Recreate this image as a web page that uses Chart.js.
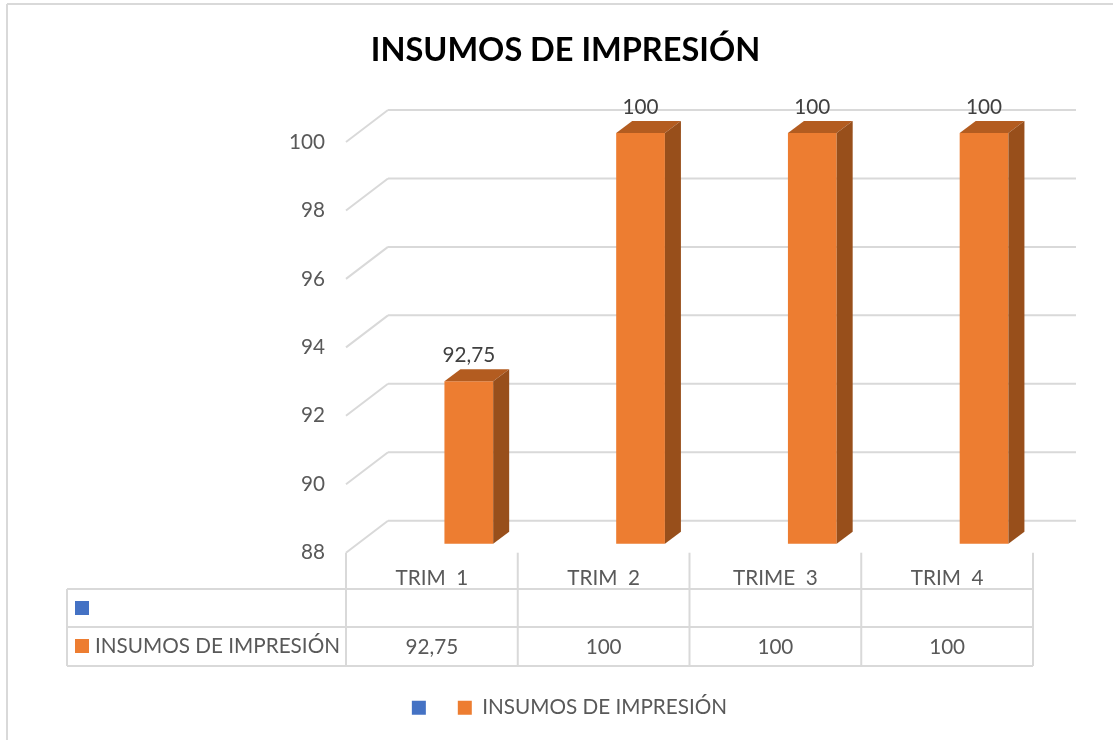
<!DOCTYPE html>
<html>
<head>
<meta charset="utf-8">
<script src="https://cdn.jsdelivr.net/npm/chart.js@4"></script>
<style>
  html, body { margin: 0; padding: 0; background: #fff; }
  canvas { display: block; }
</style>
</head>
<body>
<canvas id="chart" width="1113" height="740"></canvas>
<script>
const titleText = 'INSUMOS DE IMPRESIÓN';
const categories = ['TRIM  1', 'TRIM  2', 'TRIME  3', 'TRIM  4'];
const seriesName = 'INSUMOS DE IMPRESIÓN';
const emptySeriesName = '';
const emptyValues = [null, null, null, null];
const insumosValues = [92.75, 100, 100, 100];

const BLUE = '#4472C4', ORANGE = '#ED7D31', SIDE = '#984F1B', TOP = '#B35C20';
const GRID = '#D9D9D9', TEXT = '#595959', LABEL = '#404040';
const FONT = 'Lato';
const FONT_SIZE = 20.7;

// Pseudo 3D: bars stand a bit behind the front plane of the axes
const barLift = 9;
const barDepth = { x: 16, y: 12 };
const wallDepth = { x: 42, y: 32 };

function fmt(v) {
    return String(v).replace('.', ',');
}

function line(ctx, x1, y1, x2, y2) {
    ctx.beginPath();
    ctx.moveTo(x1, y1);
    ctx.lineTo(x2, y2);
    ctx.stroke();
}

function swatch(ctx, x, y, color) {
    ctx.fillStyle = color;
    ctx.fillRect(x, y, 14, 14);
}

const frame3d = {
    id: 'frame3d',
    afterLayout(chart) {
        // title and legend are not centred on the canvas in the original
        chart.titleBlock.left += 49;
        chart.titleBlock.right += 49;
        chart.legend.left += 53;
        chart.legend.right += 53;
        chart.legend.top -= 4;
        chart.legend.bottom -= 4;
    },
    beforeDraw(chart) {
        const ctx = chart.ctx;
        ctx.save();
        ctx.strokeStyle = GRID;
        ctx.lineWidth = 2;
        line(ctx, 7, 4, 7, 740);
        line(ctx, 7, 4, 1113, 4);
        ctx.restore();
    },
    beforeDatasetsDraw(chart) {
        const ctx = chart.ctx, y = chart.scales.y, area = chart.chartArea;
        ctx.save();
        ctx.strokeStyle = GRID;
        ctx.lineWidth = 2;
        y.ticks.forEach(t => {
            const py = y.getPixelForValue(t.value);
            line(ctx, area.left, py, area.left + wallDepth.x, py - wallDepth.y);
            line(ctx, area.left + wallDepth.x, py - wallDepth.y, area.right + wallDepth.x + 1, py - wallDepth.y);
        });
        ctx.restore();
        ctx.save();
        ctx.translate(0, -barLift);
    },
    afterDatasetsDraw(chart) {
        const ctx = chart.ctx, area = chart.chartArea;
        const bars = chart.getDatasetMeta(1).data;
        bars.forEach(b => {
            const l = b.x - b.width / 2, r = b.x + b.width / 2;
            ctx.fillStyle = TOP;
            ctx.beginPath();
            ctx.moveTo(l, b.y);
            ctx.lineTo(l + barDepth.x, b.y - barDepth.y);
            ctx.lineTo(r + barDepth.x, b.y - barDepth.y);
            ctx.lineTo(r, b.y);
            ctx.fill();
            // bars start at 0 and get clipped, so the floor is the chart area bottom
            ctx.fillStyle = SIDE;
            ctx.beginPath();
            ctx.moveTo(r, b.y);
            ctx.lineTo(r + barDepth.x, b.y - barDepth.y);
            ctx.lineTo(r + barDepth.x, area.bottom - barDepth.y);
            ctx.lineTo(r, area.bottom);
            ctx.fill();
        });
        ctx.restore();

        // data labels
        ctx.save();
        ctx.font = FONT_SIZE + 'px ' + FONT;
        ctx.fillStyle = LABEL;
        ctx.textAlign = 'center';
        ctx.textBaseline = 'middle';
        bars.forEach((b, i) => ctx.fillText(fmt(insumosValues[i]), b.x, b.y - barLift - 25.5));
        ctx.restore();
    },
    afterDraw(chart) {
        // data table under the x axis
        const ctx = chart.ctx, x = chart.scales.x, area = chart.chartArea;
        const tableLeft = 67, rows = [589, 627, 666];
        const half = (x.getPixelForValue(1) - x.getPixelForValue(0)) / 2;
        ctx.save();
        ctx.strokeStyle = GRID;
        ctx.lineWidth = 2;
        rows.forEach(r => line(ctx, tableLeft, r, area.right, r));
        line(ctx, tableLeft, rows[0], tableLeft, rows[2]);
        line(ctx, area.left, area.bottom, area.left, rows[2]);
        categories.forEach((c, i) => {
            const px = x.getPixelForValue(i) + half;
            line(ctx, px, area.bottom, px, rows[2]);
        });
        swatch(ctx, 75, 601, BLUE);
        swatch(ctx, 75, 639, ORANGE);
        ctx.font = FONT_SIZE + 'px ' + FONT;
        ctx.fillStyle = TEXT;
        ctx.textBaseline = 'middle';
        ctx.textAlign = 'left';
        ctx.fillText(seriesName, 95, 646);
        ctx.textAlign = 'center';
        insumosValues.forEach((v, i) => ctx.fillText(fmt(v), x.getPixelForValue(i), 647));
        ctx.restore();
    }
};

Chart.defaults.font.family = FONT;
Chart.defaults.color = TEXT;

new Chart(document.getElementById('chart'), {
    type: 'bar',
    data: {
        labels: categories,
        datasets: [
            { label: emptySeriesName, data: emptyValues, backgroundColor: BLUE },
            { label: seriesName, data: insumosValues, backgroundColor: ORANGE }
        ]
    },
    options: {
        responsive: false,
        animation: false,
        layout: { padding: { top: 0, right: 80, bottom: 8, left: 0 } },
        datasets: { bar: { categoryPercentage: 0.86, barPercentage: 0.66 } },
        plugins: {
            title: {
                display: true,
                text: titleText,
                color: '#000',
                font: { size: 32.5, weight: 'bold' },
                padding: { top: 31, bottom: 72 }
            },
            legend: {
                position: 'bottom',
                labels: { boxWidth: 14, boxHeight: 14, padding: 21.6, font: { size: FONT_SIZE }, color: TEXT }
            },
            tooltip: { enabled: false }
        },
        scales: {
            x: {
                grid: { display: false, drawTicks: false },
                border: { display: false },
                ticks: { font: { size: FONT_SIZE }, color: TEXT, padding: 13, maxRotation: 0 },
                afterFit(s) { s.height = 127; }
            },
            y: {
                min: 88,
                max: 100,
                grid: { display: false, drawTicks: false },
                border: { display: false },
                ticks: { stepSize: 2, font: { size: FONT_SIZE }, color: TEXT, padding: 21 },
                afterFit(s) { s.width = 346; }
            }
        }
    },
    plugins: [frame3d]
});
</script>
</body>
</html>
